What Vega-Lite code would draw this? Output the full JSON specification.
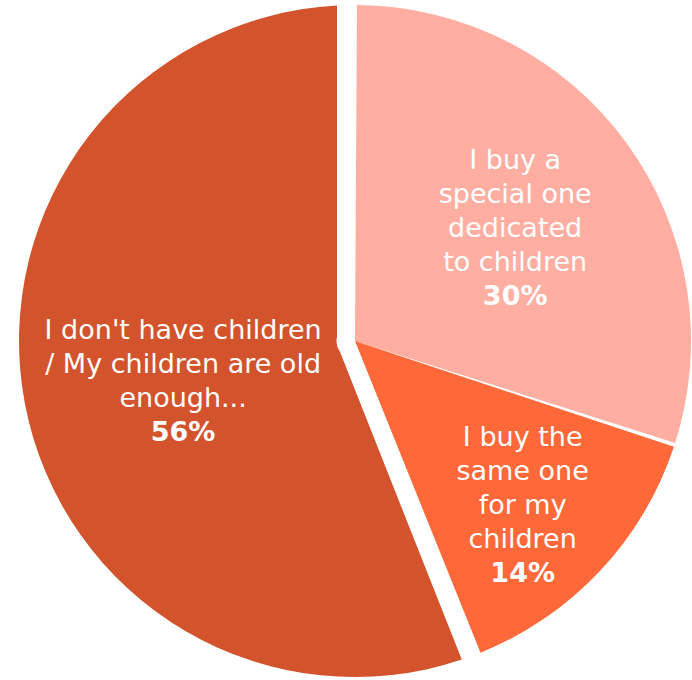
{
  "$schema": "https://vega.github.io/schema/vega-lite/v6.json",
  "width": 692,
  "height": 680,
  "autosize": {"type": "fit", "contains": "padding"},
  "padding": {"left": 18, "top": 2, "right": 0, "bottom": 0},
  "background": "white",
  "view": {"stroke": null},
  "data": {
    "values": [
      {"key": "special", "label": "I buy a\nspecial one\ndedicated\nto children", "pct": 30, "rank": 1},
      {"key": "same", "label": "I buy the\nsame one\nfor my\nchildren", "pct": 14, "rank": 2},
      {"key": "none", "label": "I don't have children\n/ My children are old\nenough...", "pct": 56, "rank": 3}
    ]
  },
  "encoding": {
    "theta": {"field": "pct", "type": "quantitative", "stack": true},
    "order": {"field": "rank", "type": "quantitative"}
  },
  "layer": [
    {
      "mark": {
        "type": "arc",
        "outerRadius": 336,
        "padAngle": {"expr": "datum.key === 'none' ? 0.107 : 0.0119"},
        "innerRadius": {"expr": "datum.key === 'none' ? 18.5 : 0"}
      },
      "encoding": {
        "color": {
          "field": "key",
          "type": "nominal",
          "scale": {"domain": ["special", "same", "none"], "range": ["#FFAEA1", "#FF6838", "#D3532D"]},
          "legend": null
        }
      }
    },
    {
      "mark": {
        "type": "text",
        "font": "DejaVu Sans",
        "fontSize": 27,
        "lineHeight": 34,
        "lineBreak": "\n",
        "fill": "white",
        "align": "center",
        "baseline": "middle",
        "radius": {"expr": "datum.key === 'same' ? 230 : datum.key === 'none' ? 175 : 198"},
        "dy": {"expr": "-17 * length(split(datum.label, '\\n')) + (datum.key === 'special' ? 4 : 8)"}
      },
      "encoding": {
        "text": {"field": "label"},
        "detail": {"field": "key"}
      }
    },
    {
      "transform": [{"calculate": "datum.pct + '%'", "as": "pctText"}],
      "mark": {
        "type": "text",
        "font": "DejaVu Sans",
        "fontSize": 27,
        "fontWeight": "bold",
        "fill": "white",
        "align": "center",
        "baseline": "middle",
        "radius": {"expr": "datum.key === 'same' ? 230 : datum.key === 'none' ? 175 : 198"},
        "dy": {"expr": "17 * length(split(datum.label, '\\n')) + (datum.key === 'special' ? 4 : 8)"}
      },
      "encoding": {
        "text": {"field": "pctText"},
        "detail": {"field": "key"}
      }
    }
  ]
}
